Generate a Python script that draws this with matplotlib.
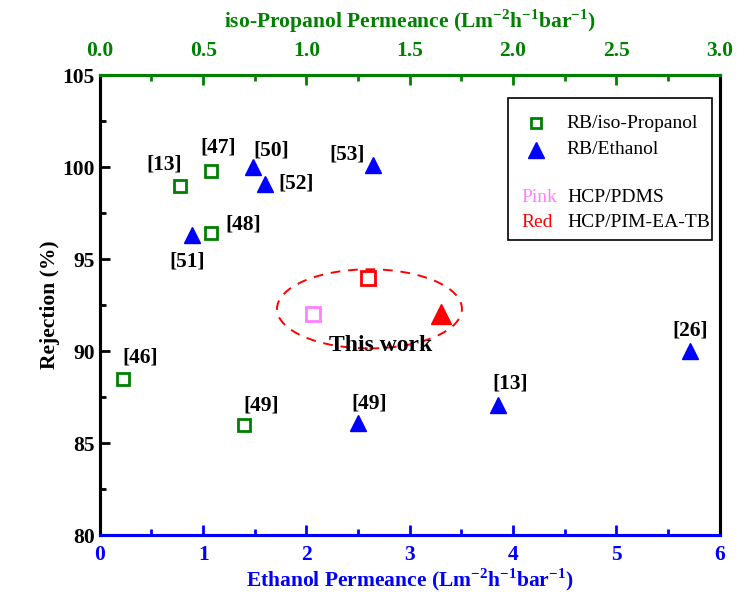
import matplotlib
matplotlib.use("Agg")
import matplotlib.pyplot as plt
from matplotlib.lines import Line2D
from matplotlib.patches import Ellipse, Rectangle

plt.rcParams["font.family"] = ["Liberation Serif", "DejaVu Serif"]
plt.rcParams["mathtext.fontset"] = "custom"
plt.rcParams["mathtext.rm"] = "Liberation Serif:bold"
plt.rcParams["mathtext.bf"] = "Liberation Serif:bold"

# RB/iso-Propanol literature points (top axis)
ipa_refs = ["[13]", "[47]", "[48]", "[46]", "[49]"]
ipa_perm = [0.39, 0.54, 0.54, 0.11, 0.70]
ipa_rej = [99.0, 99.8, 96.4, 88.5, 86.0]

# RB/Ethanol literature points (bottom axis)
eth_refs = ["[51]", "[50]", "[52]", "[53]", "[49]", "[13]", "[26]"]
eth_perm = [0.89, 1.48, 1.60, 2.64, 2.50, 3.85, 5.71]
eth_rej = [96.3, 100.0, 99.1, 100.1, 86.1, 87.1, 90.0]

# this work
pdms_ipa_perm, pdms_ipa_rej = 1.03, 92.0
pim_ipa_perm, pim_ipa_rej = 1.30, 94.0
pim_eth_perm, pim_eth_rej = 3.30, 92.0

# label offsets in points (dx, dy)
ipa_offsets = [(-12, 15), (5, 16.5), (23, 6.5), (13, 15), (12, 14)]
eth_offsets = [(-3, -19), (13, 12), (22, 0), (-18, 8), (8, 14), (9, 15), (0, 15)]

GREEN = "#008000"
BLUE = "#0000ff"
PINK = "#ff80ff"
RED = "#ff0000"
FS = 15.5

fig = plt.figure(figsize=(7.45, 5.92), dpi=100)
ax = fig.add_axes([0.134, 0.096, 0.832, 0.777])
ax2 = ax.twiny()

ax.set_xlim(0, 6)
ax.set_ylim(80, 105)
ax2.set_xlim(0, 3)

ax.set_xticks(range(0, 7))
ax.set_xticks([x + 0.5 for x in range(6)], minor=True)
ax.set_yticks(range(80, 106, 5))
ax.set_yticks([82.5, 87.5, 92.5, 97.5, 102.5], minor=True)
ax2.set_xticks([0.0, 0.5, 1.0, 1.5, 2.0, 2.5, 3.0])
ax2.set_xticks([0.25, 0.75, 1.25, 1.75, 2.25, 2.75], minor=True)
ax2.set_xticklabels(["0.0", "0.5", "1.0", "1.5", "2.0", "2.5", "3.0"])

for a in (ax, ax2):
    for side in ("left", "right", "top", "bottom"):
        a.spines[side].set_linewidth(2.2)
ax.spines["bottom"].set_color(BLUE)
ax2.spines["bottom"].set_color(BLUE)
ax.spines["top"].set_color(GREEN)
ax2.spines["top"].set_color(GREEN)

ax.tick_params(axis="x", which="both", direction="in", colors=BLUE, width=2, labelsize=FS, pad=7)
ax.tick_params(axis="x", which="major", length=7)
ax.tick_params(axis="x", which="minor", length=4)
ax.tick_params(axis="y", which="both", direction="in", width=2, labelsize=FS, right=False)
ax.tick_params(axis="y", which="major", length=7)
ax.tick_params(axis="y", which="minor", length=4)
ax2.tick_params(axis="x", which="both", direction="in", colors=GREEN, width=2, labelsize=FS, pad=10)
ax2.tick_params(axis="x", which="major", length=7)
ax2.tick_params(axis="x", which="minor", length=4)
for lab in ax.get_xticklabels() + ax.get_yticklabels() + ax2.get_xticklabels():
    lab.set_fontweight("bold")

ax.set_xlabel(r"Ethanol Permeance (Lm$^{\mathbf{-2}}$h$^{\mathbf{-1}}$bar$^{\mathbf{-1}}$)",
              color=BLUE, fontsize=FS, fontweight="bold", labelpad=1)
ax2.set_xlabel(r"iso-Propanol Permeance (Lm$^{\mathbf{-2}}$h$^{\mathbf{-1}}$bar$^{\mathbf{-1}}$)",
               color=GREEN, fontsize=FS, fontweight="bold", labelpad=10)
ax.set_ylabel("Rejection (%)", fontsize=FS, fontweight="bold", labelpad=2)

# literature data
ax2.plot(ipa_perm, ipa_rej, "s", mfc="none", mec=GREEN, mew=2, ms=8, zorder=5)
ax.plot(eth_perm, eth_rej, "^", color=BLUE, ms=12, zorder=5)
for ref, x, y, off in zip(ipa_refs, ipa_perm, ipa_rej, ipa_offsets):
    ax2.annotate(ref, (x, y), xytext=off, textcoords="offset points",
                 ha="center", va="center", fontsize=FS, fontweight="bold")
for ref, x, y, off in zip(eth_refs, eth_perm, eth_rej, eth_offsets):
    ax.annotate(ref, (x, y), xytext=off, textcoords="offset points",
                ha="center", va="center", fontsize=FS, fontweight="bold")

# this work
ax2.plot([pdms_ipa_perm], [pdms_ipa_rej], "s", mfc="none", mec=PINK, mew=2, ms=10, zorder=5)
ax2.plot([pim_ipa_perm], [pim_ipa_rej], "s", mfc="none", mec=RED, mew=2, ms=10, zorder=5)
ax.plot([pim_eth_perm], [pim_eth_rej], "^", color=RED, ms=14, zorder=5)
ax.add_patch(Ellipse((2.61, 92.3), 1.79, 4.3, fill=False, ec=RED, ls=(0, (5, 4)), lw=1.4))
ax.text(2.72, 90.3, "This work", ha="center", va="center", fontsize=17, fontweight="bold")

# legend box drawn by hand
ax.add_patch(Rectangle((0.658, 0.641), 0.329, 0.309, transform=ax.transAxes,
                       fill=False, ec="black", lw=1.2, zorder=6))
ax.add_line(Line2D([0.704], [0.895], transform=ax.transAxes, marker="s", mfc="none",
                   mec=GREEN, mew=2, ms=7, ls="none", zorder=7))
ax.add_line(Line2D([0.704], [0.838], transform=ax.transAxes, marker="^", color=BLUE,
                   ms=11, ls="none", zorder=7))
LFS = 14
ax.text(0.752, 0.895, "RB/iso-Propanol", transform=ax.transAxes, va="center", fontsize=LFS)
ax.text(0.752, 0.838, "RB/Ethanol", transform=ax.transAxes, va="center", fontsize=LFS)
ax.text(0.680, 0.734, "Pink", transform=ax.transAxes, va="center", color=PINK, fontsize=LFS)
ax.text(0.755, 0.734, "HCP/PDMS", transform=ax.transAxes, va="center", fontsize=LFS)
ax.text(0.680, 0.680, "Red", transform=ax.transAxes, va="center", color=RED, fontsize=LFS)
ax.text(0.755, 0.680, "HCP/PIM-EA-TB", transform=ax.transAxes, va="center", fontsize=LFS)

fig.savefig("out.png", dpi=100)
